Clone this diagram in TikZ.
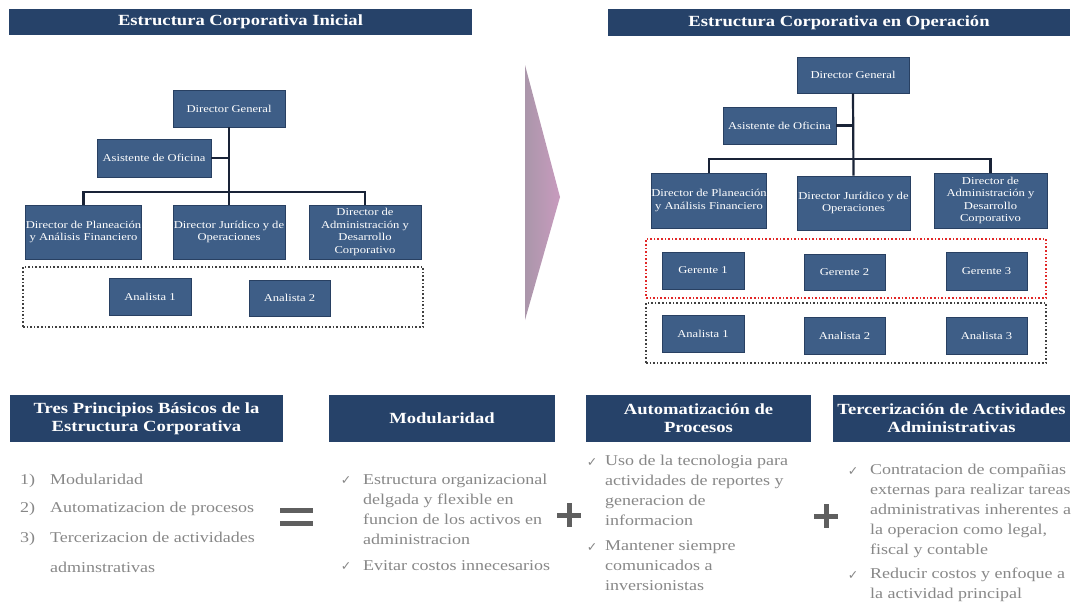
\documentclass[tikz,border=0pt]{standalone}
\usepackage{fontspec}
\setmainfont[FakeStretch=1.2]{Liberation Serif}
\newfontfamily\symfont{DejaVu Sans}
\definecolor{barblue}{RGB}{38,66,105}
\definecolor{boxblue}{RGB}{62,94,135}
\definecolor{boxedge}{RGB}{40,64,98}
\definecolor{linecol}{RGB}{25,35,55}
\definecolor{txtgray}{RGB}{135,135,135}
\definecolor{arrowpink}{RGB}{200,155,190}
\definecolor{arrowgray}{RGB}{170,150,170}
\definecolor{signgray}{RGB}{95,95,95}
\definecolor{dotred}{RGB}{225,40,40}
\begin{document}
\begin{tikzpicture}[x=1pt,y=-1pt,
  titlebar/.style={fill=barblue, text=white, font=\bfseries\fontsize{15.5}{18}\selectfont, inner sep=0pt, align=center},
  orgbox/.style={fill=boxblue, draw=boxedge, line width=0.6pt, text=white, font=\fontsize{10.5}{12.5}\selectfont, inner sep=0pt, align=center},
  conn/.style={draw=linecol, line width=2.2pt},
  dotbox/.style={draw=darkgray, dotted, line width=1.6pt, inner sep=0pt},
  reddotbox/.style={draw=dotred, dotted, line width=1.6pt, inner sep=0pt},
  body/.style={text=txtgray, font=\fontsize{15}{20}\selectfont, inner sep=0pt, align=left},
  chk/.style={text=txtgray, font=\symfont\fontsize{12.5}{14}\selectfont, inner sep=0pt},
  sign/.style={draw=signgray, line width=5pt}
]
\useasboundingbox (0,0) rectangle (1072,605);

% ---------- Title bars ----------
\node[titlebar, minimum width=463, minimum height=26] (tl) at (240.5,22) {Estructura Corporativa Inicial};
\node[titlebar, minimum width=462, minimum height=27] (tr) at (839,22.5) {Estructura Corporativa en Operación};

% ---------- Left chart ----------
\node[dotbox, minimum width=400, minimum height=60] (grpL) at (223,297) {};
\node[orgbox, minimum width=112, minimum height=37] (dgL) at (229,108.5) {Director General};
\node[orgbox, minimum width=114, minimum height=38] (asisL) at (154,158) {Asistente de Oficina};
\node[orgbox, minimum width=113, minimum height=54] (plL) at (83.5,232) {Director de Planeación\\y Análisis Financiero};
\node[orgbox, minimum width=112, minimum height=54] (midL) at (229,232) {Director Jurídico y de\\Operaciones};
\node[orgbox, minimum width=112, minimum height=54] (adL) at (365,232) {Director de\\Administración y\\Desarrollo\\Corporativo};
\node[orgbox, minimum width=82, minimum height=37] (an1L) at (150,296.5) {Analista 1};
\node[orgbox, minimum width=81, minimum height=36] (an2L) at (289.5,298) {Analista 2};
\coordinate (busL) at (229,192);
\draw[conn] (dgL.south) -- (midL.north);
\draw[conn] (asisL.east) -- (asisL.east -| dgL.south);
\draw[conn] (plL.north) -- (plL.north |- busL) -- (adL.north |- busL) -- (adL.north);

% ---------- Arrow ----------
\shade[left color=arrowgray, right color=arrowpink] (525,65) -- (560,197) -- (525,320) -- cycle;

% ---------- Right chart ----------
\node[reddotbox, minimum width=400, minimum height=59] (grpG) at (846,268.5) {};
\node[dotbox, minimum width=400, minimum height=60] (grpA) at (846,333) {};
\node[orgbox, minimum width=112, minimum height=36] (dgR) at (853,75) {Director General};
\node[orgbox, minimum width=113, minimum height=37] (asisR) at (779.5,125.5) {Asistente de Oficina};
\node[orgbox, minimum width=114, minimum height=55] (plR) at (709,200.5) {Director de Planeación\\y Análisis Financiero};
\node[orgbox, minimum width=113, minimum height=54] (midR) at (853.5,203) {Director Jurídico y de\\Operaciones};
\node[orgbox, minimum width=113, minimum height=55] (adR) at (990.5,200.5) {Director de\\Administración y\\Desarrollo\\Corporativo};
\node[orgbox, minimum width=82, minimum height=37] (ge1) at (703,270.5) {Gerente 1};
\node[orgbox, minimum width=81, minimum height=36] (ge2) at (844.5,272) {Gerente 2};
\node[orgbox, minimum width=81, minimum height=38] (ge3) at (986.5,271) {Gerente 3};
\node[orgbox, minimum width=82, minimum height=37] (an1R) at (703,333.5) {Analista 1};
\node[orgbox, minimum width=81, minimum height=37] (an2R) at (844.5,335.5) {Analista 2};
\node[orgbox, minimum width=81, minimum height=37] (an3R) at (986.5,335.5) {Analista 3};
\coordinate (busR) at (853,159);
\draw[conn] (dgR.south) -- (midR.north);
\draw[conn] (asisR.east) -- (asisR.east -| dgR.south);
\draw[conn] (plR.north) -- (plR.north |- busR) -- (adR.north |- busR) -- (adR.north);

% ---------- Bottom title bars ----------
\node[titlebar, minimum width=273, minimum height=47] (tp) at (146.5,418.5) {Tres Principios Básicos de la\\Estructura Corporativa};
\node[titlebar, minimum width=226, minimum height=47] (mod) at (442,418.5) {Modularidad};
\node[titlebar, minimum width=225, minimum height=47] (aut) at (698.5,418.5) {Automatización de\\Procesos};
\node[titlebar, minimum width=237, minimum height=47] (ter) at (951.5,418.5) {Tercerización de Actividades\\Administrativas};

% ---------- Left list ----------
\node[body, anchor=base west] (n1) at (20,484) {1)};
\node[body, anchor=base west] (t1) at (50,484) {Modularidad};
\node[body, anchor=base west] (n2) at (20,512) {2)};
\node[body, anchor=base west] (t2) at (50,512) {Automatizacion de procesos};
\node[body, anchor=base west] (n3) at (20,542) {3)};
\node[body, anchor=base west] (t3) at (50,542) {Tercerizacion de actividades};
\node[body, anchor=base west] (t3b) at (50,572) {adminstrativas};

% ---------- Signs ----------
\draw[sign] (280,510) -- (313,510);
\draw[sign] (280,523.5) -- (313,523.5);
\draw[sign] (557,515) -- (581,515);
\draw[sign] (569,503) -- (569,527);
\draw[sign] (814,516) -- (838,516);
\draw[sign] (826,504) -- (826,528);

% ---------- Modularidad column ----------
\node[chk] (c1) at (346,481) {✓};
\node[body, anchor=north west] (m1) at (363,474) {Estructura organizacional\\delgada y flexible en\\funcion de los activos en\\administracion};
\node[chk] (c2) at (346,567) {✓};
\node[body, anchor=north west] (m2) at (363,560) {Evitar costos innecesarios};

% ---------- Automatizacion column ----------
\node[chk] (c3) at (592,463) {✓};
\node[body, anchor=north west] (a1) at (605,455) {Uso de la tecnologia para\\actividades de reportes y\\generacion de\\informacion};
\node[chk] (c4) at (592,548) {✓};
\node[body, anchor=north west] (a2) at (605,540) {Mantener siempre\\comunicados a\\inversionistas};

% ---------- Tercerizacion column ----------
\node[chk] (c5) at (853,472) {✓};
\node[body, anchor=north west] (e1) at (870,464) {Contratacion de compañias\\externas para realizar tareas\\administrativas inherentes a\\la operacion como legal,\\fiscal y contable};
\node[chk] (c6) at (853,576) {✓};
\node[body, anchor=north west] (e2) at (870,568) {Reducir costos y enfoque a\\la actividad principal};
\end{tikzpicture}
\end{document}
